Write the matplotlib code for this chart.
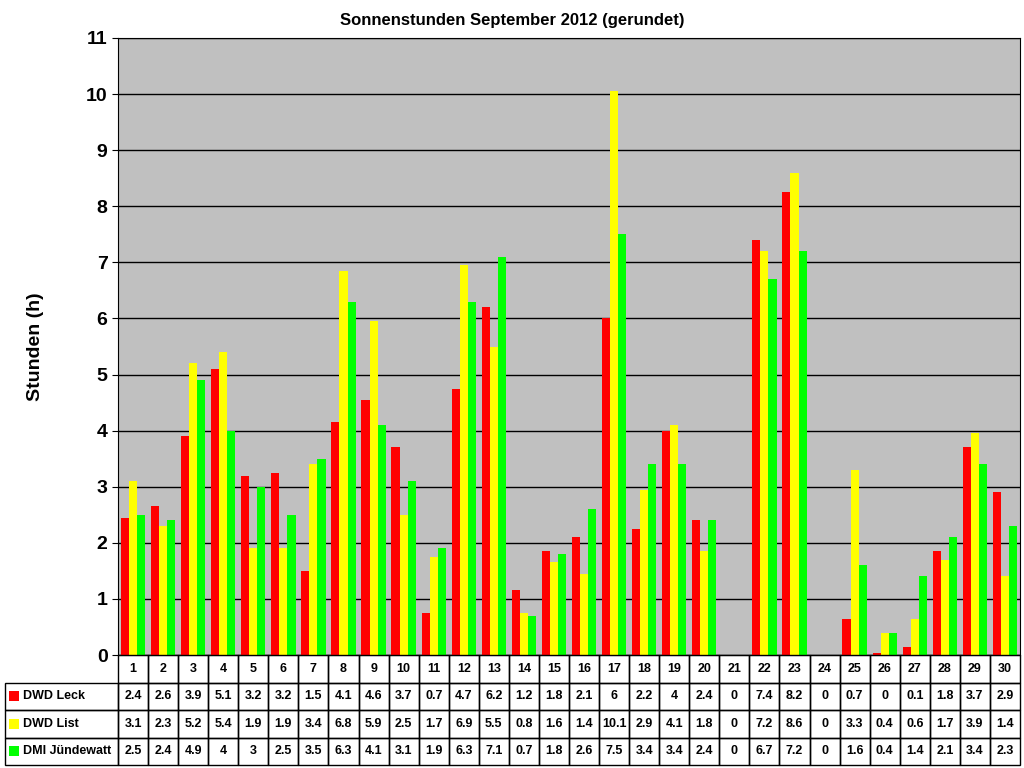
import matplotlib
matplotlib.use("Agg")
import matplotlib.pyplot as plt
from matplotlib.patches import Rectangle
import numpy as np

plt.rcParams['font.family'] = ['Liberation Sans', 'DejaVu Sans']
plt.rcParams['font.weight'] = 'bold'

days = [str(i) for i in range(1, 31)]
series_names = ["DWD Leck", "DWD List", "DMI Jündewatt"]
leck = [2.45,2.65,3.9,5.1,3.2,3.25,1.5,4.15,4.55,3.7,0.75,4.75,6.2,1.15,1.85,2.1,6,2.25,4,2.4,0,7.4,8.25,0,0.65,0.04,0.15,1.85,3.7,2.9]
lst = [3.1,2.3,5.2,5.4,1.9,1.9,3.4,6.85,5.95,2.5,1.75,6.95,5.5,0.75,1.65,1.45,10.05,2.95,4.1,1.85,0,7.2,8.6,0,3.3,0.4,0.65,1.7,3.95,1.4]
dmi = [2.5,2.4,4.9,4.0,3.0,2.5,3.5,6.3,4.1,3.1,1.9,6.3,7.1,0.7,1.8,2.6,7.5,3.4,3.4,2.4,0,6.7,7.2,0,1.6,0.4,1.4,2.1,3.4,2.3]
leck_lbl = ["2.4","2.6","3.9","5.1","3.2","3.2","1.5","4.1","4.6","3.7","0.7","4.7","6.2","1.2","1.8","2.1","6","2.2","4","2.4","0","7.4","8.2","0","0.7","0","0.1","1.8","3.7","2.9"]
list_lbl = ["3.1","2.3","5.2","5.4","1.9","1.9","3.4","6.8","5.9","2.5","1.7","6.9","5.5","0.8","1.6","1.4","10.1","2.9","4.1","1.8","0","7.2","8.6","0","3.3","0.4","0.6","1.7","3.9","1.4"]
dmi_lbl = ["2.5","2.4","4.9","4","3","2.5","3.5","6.3","4.1","3.1","1.9","6.3","7.1","0.7","1.8","2.6","7.5","3.4","3.4","2.4","0","6.7","7.2","0","1.6","0.4","1.4","2.1","3.4","2.3"]
colors = ["#FF0000", "#FFFF00", "#00FF00"]

fig = plt.figure(figsize=(10.24, 7.68), dpi=100)
L, R, T, B = 118, 1020, 38, 655
ax = fig.add_axes([L/1024, (768-B)/768, (R-L)/1024, (B-T)/768])
ax.set_facecolor("#C0C0C0")
x = np.arange(30)
w = 0.27
for i, (vals, c) in enumerate(zip([leck, lst, dmi], colors)):
    ax.bar(x + (i-1)*w, vals, w, color=c, zorder=3)
ax.set_xlim(-0.5, 29.5)
ax.set_ylim(0, 11)
ax.set_yticks(range(12))
ax.tick_params(axis='y', labelsize=14, length=4)
ax.set_xticks([])
ax.yaxis.grid(True, color='black', linewidth=1, zorder=1)
for s in ax.spines.values():
    s.set_color('black')
ax.set_ylabel("Stunden (h)", fontsize=14, fontweight='bold', labelpad=30)
fig.text(0.5, 1-20/768, "Sonnenstunden September 2012 (gerundet)", ha='center', va='center', fontsize=12, fontweight='bold')

col_w = (R - L) / 30
row_h = (765 - B) / 4
lab_w = L - 5
def fx(px): return px/1024
def fy(py): return 1 - py/768
rows = [days, leck_lbl, list_lbl, dmi_lbl]
for r in range(4):
    y0 = B + r*row_h
    if r > 0:
        fig.add_artist(Rectangle((fx(5), fy(y0+row_h)), fx(lab_w), row_h/768, transform=fig.transFigure, fill=False, ec='black', lw=1))
        fig.add_artist(Rectangle((fx(9), fy(y0+row_h/2+5)), fx(10), 10/768, transform=fig.transFigure, fc=colors[r-1], ec='none'))
        fig.text(fx(23), fy(y0+row_h/2), series_names[r-1], ha='left', va='center', fontsize=9, fontweight='bold')
    for c in range(30):
        x0 = L + c*col_w
        fig.add_artist(Rectangle((fx(x0), fy(y0+row_h)), fx(col_w), row_h/768, transform=fig.transFigure, fill=False, ec='black', lw=1))
        fig.text(fx(x0+col_w/2), fy(y0+row_h/2), rows[r][c], ha='center', va='center', fontsize=9, fontweight='bold')

fig.savefig("out.png", dpi=100, facecolor='white')
